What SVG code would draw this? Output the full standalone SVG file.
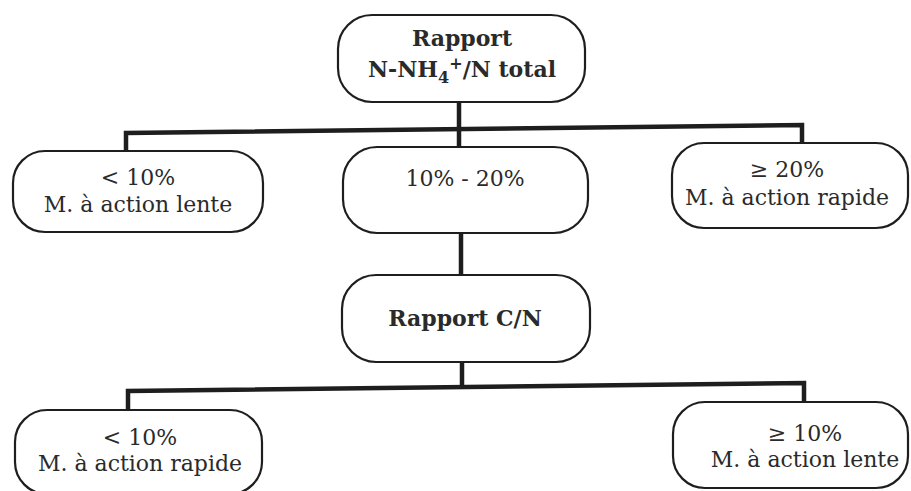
<svg xmlns="http://www.w3.org/2000/svg" width="911" height="491" viewBox="0 0 911 491">
<style>
.box{fill:#fff;stroke:#1e1e1e;stroke-width:2.2}
.t{font-family:"DejaVu Serif","Liberation Serif",serif;font-size:22px;fill:#2a2a2a;text-anchor:middle}
.b{font-weight:bold;font-size:22px}
.c{fill:none;stroke:#1e1e1e;stroke-width:4.5;stroke-linejoin:miter}
</style>
<rect width="911" height="491" fill="#fff"/>
<g id="connectors">
<path class="c" d="M459,102 V147"/>
<path class="c" d="M126,151 V133 L802,125 V143"/>
<path class="c" d="M461,233 V275"/>
<path class="c" d="M462,362 V386"/>
<path class="c" d="M128,410 V391 L804,383 V402"/>
</g>
<g id="n-top">
<rect class="box" x="338" y="15" width="247" height="87" rx="34"/>
<text class="t b" x="462" y="46">Rapport</text>
<text class="t b" x="462" y="77">N-NH<tspan font-size="16" dy="6">4</tspan><tspan font-size="16" dy="-14">+</tspan><tspan dy="8">/N total</tspan></text>
</g>
<g id="n-lt10">
<rect class="box" x="13" y="151" width="250" height="81" rx="32"/>
<text class="t" x="138" y="185">&lt; 10%</text>
<text class="t" x="138" y="212">M. à action lente</text>
</g>
<g id="n-10-20">
<rect class="box" x="343" y="147" width="245" height="86" rx="34"/>
<text class="t" x="465" y="186">10% - 20%</text>
</g>
<g id="n-ge20">
<rect class="box" x="672" y="143" width="236" height="85" rx="32"/>
<text class="t" x="787" y="177">≥ 20%</text>
<text class="t" x="787" y="205">M. à action rapide</text>
</g>
<g id="n-cn">
<rect class="box" x="342" y="275" width="248" height="87" rx="34"/>
<text class="t b" x="465" y="326">Rapport C/N</text>
</g>
<g id="n-lt10b">
<rect class="box" x="15" y="410" width="247" height="84" rx="32"/>
<text class="t" x="140" y="445">&lt; 10%</text>
<text class="t" x="140" y="471">M. à action rapide</text>
</g>
<g id="n-ge10">
<rect class="box" x="673" y="402" width="235" height="86" rx="32"/>
<text class="t" x="805" y="441">≥ 10%</text>
<text class="t" x="805" y="467">M. à action lente</text>
</g>
</svg>
